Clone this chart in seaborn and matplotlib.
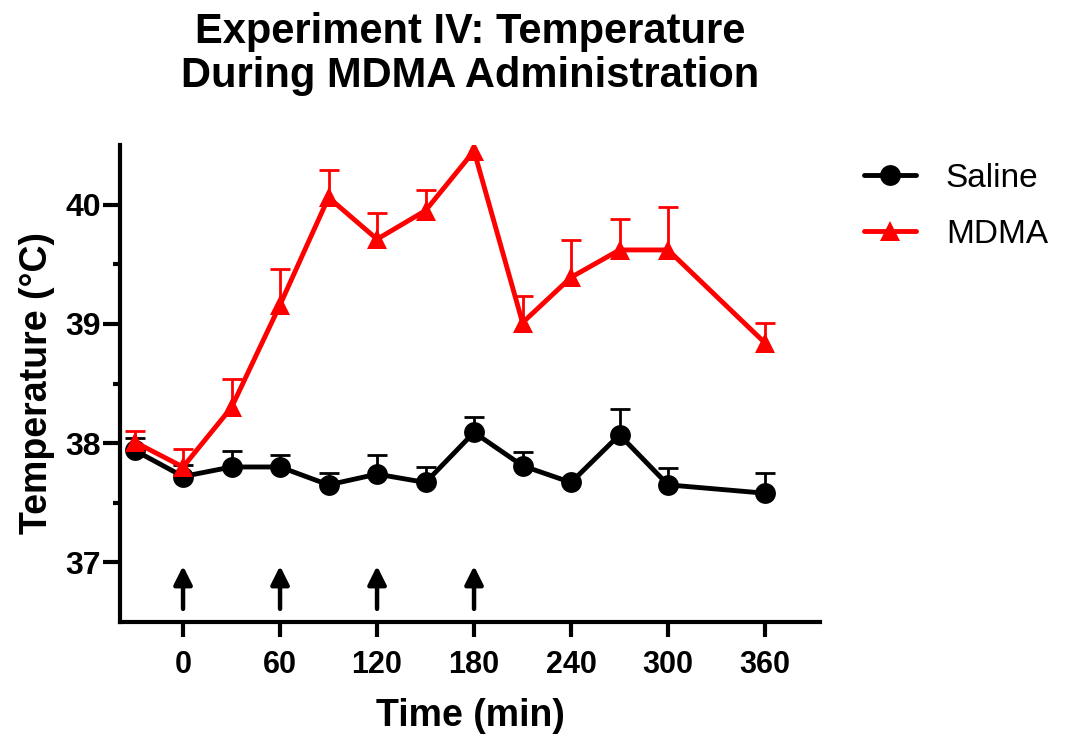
import numpy as np
import pandas as pd
import matplotlib
matplotlib.use("Agg")
import matplotlib.pyplot as plt
from matplotlib.ticker import FixedLocator
import seaborn as sns

# ---- data ----
time_min = [-30, 0, 30, 60, 90, 120, 150, 180, 210, 240, 270, 300, 360]
saline_mean = [37.94, 37.72, 37.80, 37.80, 37.65, 37.74, 37.67, 38.09, 37.81, 37.67, 38.07, 37.65, 37.58]
saline_sem = [0.10, 0.10, 0.13, 0.10, 0.10, 0.16, 0.13, 0.13, 0.115, 0.0, 0.22, 0.14, 0.17]
mdma_mean = [38.01, 37.80, 38.30, 39.16, 40.06, 39.71, 39.95, 40.45, 39.01, 39.39, 39.62, 39.62, 38.84]
mdma_sem = [0.09, 0.15, 0.24, 0.30, 0.23, 0.22, 0.17, 0.0, 0.22, 0.31, 0.26, 0.36, 0.17]
groups = ["Saline", "MDMA"]
colors = {"Saline": "#000000", "MDMA": "#ff0000"}
dose_times = [0, 60, 120, 180]
x_ticks = [0, 60, 120, 180, 240, 300, 360]
y_ticks = [37, 38, 39, 40]
y_minor = [37.5, 38.5, 39.5]

df = pd.concat([
    pd.DataFrame({"Time": time_min, "Temp": saline_mean, "SEM": saline_sem, "Group": "Saline"}),
    pd.DataFrame({"Time": time_min, "Temp": mdma_mean, "SEM": mdma_sem, "Group": "MDMA"}),
], ignore_index=True)

sns.set_style("ticks")
plt.rcParams["font.family"] = ["Liberation Sans", "DejaVu Sans"]
for k in ["text.color", "axes.labelcolor", "xtick.color", "ytick.color", "axes.edgecolor"]:
    plt.rcParams[k] = "black"

fig = plt.figure(figsize=(10.65, 7.36), dpi=100)
ax = fig.add_axes([120 / 1065, 1 - 622 / 736, 700 / 1065, 477 / 736])

# error bars (upper only)
for g in groups:
    sub = df[(df["Group"] == g) & (df["SEM"] > 0)]
    eb = ax.errorbar(sub["Time"], sub["Temp"], yerr=[np.zeros(len(sub)), sub["SEM"]],
                     fmt="none", ecolor=colors[g], elinewidth=2, capsize=7, capthick=2,
                     zorder=2 if g == "Saline" else 4)
    eb[1][0].set_visible(False)  # hide lower caps

sns.lineplot(data=df, x="Time", y="Temp", hue="Group", style="Group",
             hue_order=groups, style_order=groups, palette=colors,
             markers={"Saline": "o", "MDMA": "^"}, dashes=False,
             markersize=15, linewidth=3.5, markeredgewidth=0, ax=ax, legend=True)
for line in ax.get_lines():
    c = matplotlib.colors.to_hex(line.get_color())
    line.set_zorder(5 if c == "#ff0000" else 3)

# dosing arrows
for t in dose_times:
    ax.annotate("", xy=(t, 36.97), xytext=(t, 36.61),
                arrowprops=dict(arrowstyle="-|>,head_length=1.1,head_width=0.55",
                                color="black", lw=3.2, shrinkA=0, shrinkB=0))

ax.set_xlim(-39, 394)
ax.set_ylim(36.5, 40.5)
ax.set_xticks(x_ticks)
ax.set_yticks(y_ticks)
ax.yaxis.set_minor_locator(FixedLocator(y_minor))
ax.tick_params(axis="x", which="major", length=11, width=3, pad=9, labelsize=22)
ax.tick_params(axis="y", which="major", length=12, width=3, pad=1.5, labelsize=23)
ax.tick_params(axis="y", which="minor", length=5, width=3)
for lab in ax.get_xticklabels() + ax.get_yticklabels():
    lab.set_fontweight("bold")

sns.despine(ax=ax)
for s in ["left", "bottom"]:
    ax.spines[s].set_linewidth(3)
    ax.spines[s].set_color("black")

ax.set_xlabel("Time (min)", fontsize=27, fontweight="bold", labelpad=13)
ax.set_ylabel("Temperature (°C)", fontsize=27, fontweight="bold", labelpad=8)
ax.set_title("Experiment IV: Temperature\nDuring MDMA Administration",
             fontsize=30, fontweight="bold", pad=42, linespacing=1.12)

handles, labels = ax.get_legend_handles_labels()
ax.legend(handles, labels, loc="upper left", bbox_to_anchor=(1.063, 0.962), frameon=False,
          fontsize=24, handlelength=1.55, handletextpad=0.9, labelspacing=0.75,
          borderpad=0, borderaxespad=0)

fig.savefig("out.png", dpi=100)
